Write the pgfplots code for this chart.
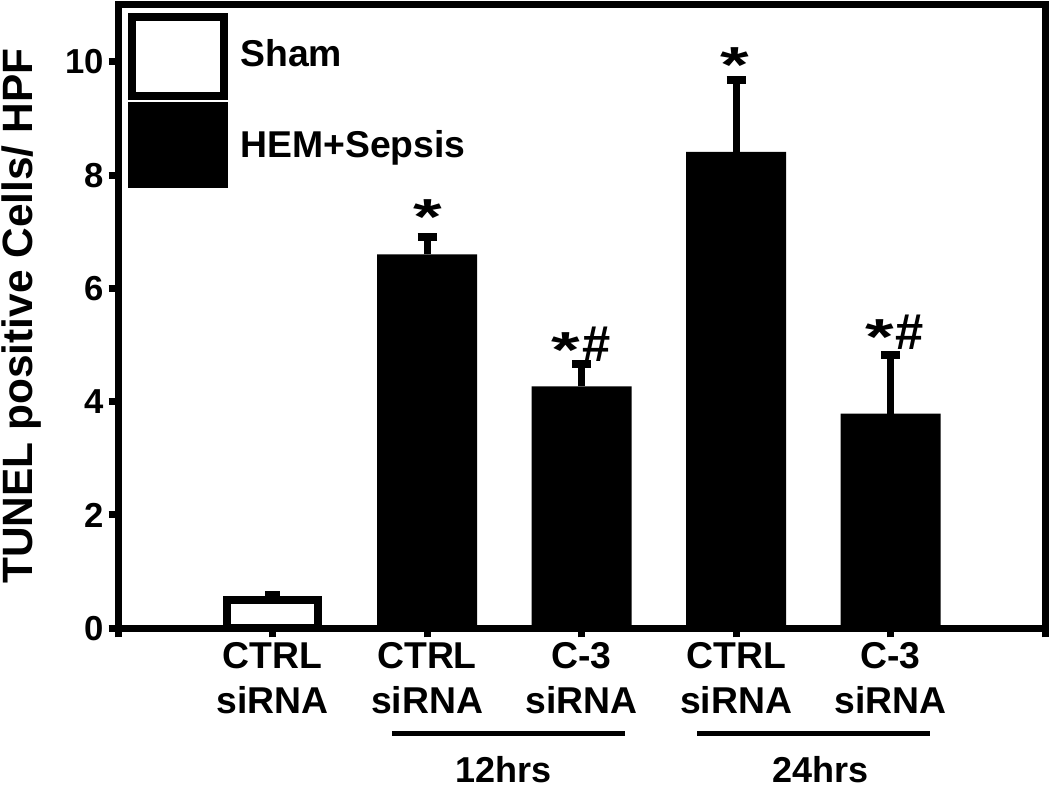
\documentclass[border=0pt]{standalone}
\usepackage{fontspec}
\setmainfont{Liberation Sans}
\usepackage{graphicx}
\usepackage{pgfplots}
\usepackage{pgfplotstable}
\pgfplotsset{compat=1.18}

\pgfplotstableread{
x y e
1 0.49 0.09
}\shamdata
\pgfplotstableread{
x y e
2 6.60 0.31
3 4.27 0.40
4 8.41 1.27
5 3.79 1.04
}\hemdata

\newcommand{\sigstar}{\scalebox{1.45}[1]{*}}

\begin{document}
\begin{tikzpicture}
\begin{axis}[
  scale only axis, width=695.25pt, height=468pt,
  xmin=0, xmax=6, ymin=0, ymax=11.02,
  axis on top=true,
  clip=false,
  axis line style={line width=5.25pt},
  xtick={0,...,6},
  xticklabels={,{CTRL\\siRNA},{CTRL\\siRNA},{C-3\\siRNA},{CTRL\\siRNA},{C-3\\siRNA},},
  ytick={0,2,...,10},
  xtick pos=bottom, ytick pos=left,
  tick align=outside,
  major tick length=7pt,
  major tick style={line width=5.25pt, black},
  /pgf/number format/assume math mode=true,
  xticklabel style={align=center, font=\fontsize{28}{33.75}\selectfont\bfseries},
  yticklabel style={font=\fontsize{26}{30}\selectfont\bfseries},
  ylabel={TUNEL positive Cells/ HPF},
  ylabel style={font=\fontsize{31.8}{36}\selectfont\bfseries, at={(axis description cs:-0.1041,0.5)}, anchor=center},
]
\addplot[ybar, bar width=68pt, bar shift=0pt, fill=white, draw=black, line width=6pt,
  error bars/.cd, y dir=plus, y explicit,
  error bar style={line width=5.25pt, black},
  error mark options={rotate=90, line width=6pt, mark size=5.5pt, black}]
  table[x=x, y=y, y error=e] {\shamdata};
\addplot[ybar, bar width=75pt, bar shift=0pt, fill=black, draw=none,
  error bars/.cd, y dir=plus, y explicit,
  error bar style={line width=5.25pt, black},
  error mark options={rotate=90, line width=6pt, mark size=7.1pt, black}]
  table[x=x, y=y, y error=e] {\hemdata};

% legend
\draw[line width=6pt, fill=white] (axis cs:0.0906,10.79) rectangle (axis cs:0.686,9.40);
\fill[black] (axis cs:0.0647,9.29) rectangle (axis cs:0.712,7.78);
\node[anchor=base west, inner sep=0pt, font=\fontsize{28}{33}\selectfont\bfseries] at (axis cs:0.790,9.91) {Sham};
\node[anchor=base west, inner sep=0pt, font=\fontsize{28}{33}\selectfont\bfseries] at (axis cs:0.790,8.32) {HEM+Sepsis};

% significance marks
\node[anchor=north, inner sep=0pt, font=\fontsize{38}{40}\selectfont\bfseries] at (axis cs:2.006,7.57) {\sigstar};
\node[anchor=north, inner sep=0pt, font=\fontsize{38}{40}\selectfont\bfseries] at (axis cs:2.90,5.22) {\sigstar};
\node[anchor=north, inner sep=0pt, font=\fontsize{38}{40}\selectfont\bfseries] at (axis cs:3.10,5.33) {\#};
\node[anchor=north, inner sep=0pt, font=\fontsize{38}{40}\selectfont\bfseries] at (axis cs:3.99,10.26) {\sigstar};
\node[anchor=north, inner sep=0pt, font=\fontsize{38}{40}\selectfont\bfseries] at (axis cs:4.93,5.45) {\sigstar};
\node[anchor=north, inner sep=0pt, font=\fontsize{38}{40}\selectfont\bfseries] at (axis cs:5.12,5.54) {\#};

% group lines
\draw[line width=3.75pt] (axis cs:1.773,-1.852) -- (axis cs:3.282,-1.852);
\draw[line width=3.75pt] (axis cs:3.748,-1.852) -- (axis cs:5.256,-1.852);
\node[anchor=base, inner sep=0pt, font=\fontsize{27}{33}\selectfont\bfseries] at (axis cs:2.498,-2.72) {12hrs};
\node[anchor=base, inner sep=0pt, font=\fontsize{27}{33}\selectfont\bfseries] at (axis cs:4.544,-2.72) {24hrs};

\coordinate (bbSW) at (axis cs:-0.764,-2.840);
\coordinate (bbNE) at (axis cs:6.032,11.093);
\end{axis}
\pgfresetboundingbox
\path[use as bounding box] (bbSW) rectangle (bbNE);
\end{tikzpicture}
\end{document}
